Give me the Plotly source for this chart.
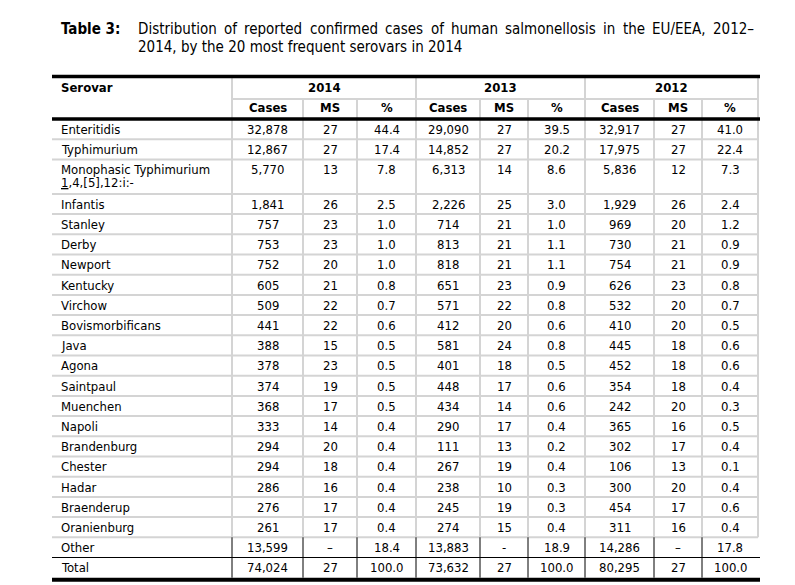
import plotly.graph_objects as go

# ---------------- data ----------------
title_label = "Table 3:"
title_line1 = ["Distribution", "of", "reported", "confirmed", "cases", "of", "human",
               "salmonellosis", "in", "the", "EU/EEA,", "2012–"]
title_line2 = "2014, by the 20 most frequent serovars in 2014"

years = ["2014", "2013", "2012"]
sub_headers = ["Cases", "MS", "%"]

serovars = ["Enteritidis", "Typhimurium", "Monophasic Typhimurium\n<u>1</u>,4,[5],12:i:-",
            "Infantis", "Stanley", "Derby", "Newport", "Kentucky", "Virchow",
            "Bovismorbificans", "Java", "Agona", "Saintpaul", "Muenchen", "Napoli",
            "Brandenburg", "Chester", "Hadar", "Braenderup", "Oranienburg", "Other", "Total"]

cases_2014 = [32878, 12867, 5770, 1841, 757, 753, 752, 605, 509, 441, 388, 378, 374, 368,
              333, 294, 294, 286, 276, 261, 13599, 74024]
ms_2014 = [27, 27, 13, 26, 23, 23, 20, 21, 22, 22, 15, 23, 19, 17, 14, 20, 18, 16, 17, 17, "–", 27]
pct_2014 = [44.4, 17.4, 7.8, 2.5, 1.0, 1.0, 1.0, 0.8, 0.7, 0.6, 0.5, 0.5, 0.5, 0.5, 0.4,
            0.4, 0.4, 0.4, 0.4, 0.4, 18.4, 100.0]

cases_2013 = [29090, 14852, 6313, 2226, 714, 813, 818, 651, 571, 412, 581, 401, 448, 434,
              290, 111, 267, 238, 245, 274, 13883, 73632]
ms_2013 = [27, 27, 14, 25, 21, 21, 21, 23, 22, 20, 24, 18, 17, 14, 17, 13, 19, 10, 19, 15, "-", 27]
pct_2013 = [39.5, 20.2, 8.6, 3.0, 1.0, 1.1, 1.1, 0.9, 0.8, 0.6, 0.8, 0.5, 0.6, 0.6, 0.4,
            0.2, 0.4, 0.3, 0.3, 0.4, 18.9, 100.0]

cases_2012 = [32917, 17975, 5836, 1929, 969, 730, 754, 626, 532, 410, 445, 452, 354, 242,
              365, 302, 106, 300, 454, 311, 14286, 80295]
ms_2012 = [27, 27, 12, 26, 20, 21, 21, 23, 20, 20, 18, 18, 18, 20, 16, 17, 13, 20, 17, 16, "–", 27]
pct_2012 = [41.0, 22.4, 7.3, 2.4, 1.2, 0.9, 0.9, 0.8, 0.7, 0.5, 0.6, 0.6, 0.4, 0.3, 0.5,
            0.4, 0.1, 0.4, 0.6, 0.4, 17.8, 100.0]

# ---------------- layout constants ----------------
W, H = 795, 585
FONT = "DejaVu Sans Condensed, DejaVu Sans, Liberation Sans, sans-serif"
BODY = 13
TITLE = 15
GREY = "#d4d4d4"

col_edges = [52, 232, 303, 357, 416, 480, 528, 585, 654, 702, 758]
title_x0, title_x1 = 137, 753

top_y, mid_y, head_y = 76.5, 99, 119
row_h, double_h = 20.2, 34.5

# approximate advance widths (em) of DejaVu Sans glyphs, used to justify the title line
EM = {"a": .613, "b": .635, "c": .550, "d": .635, "e": .615, "f": .352, "h": .634,
      "i": .278, "l": .278, "m": .974, "n": .634, "o": .612, "p": .635, "r": .411,
      "s": .521, "t": .392, "u": .634, "D": .770, "E": .632, "U": .732, "A": .684,
      "/": .337, ",": .318, "–": .5}
COND = 0.9


def word_width(w, size):
    return sum(EM.get(ch, .636) for ch in w) * COND * size


annotations = []
shapes = []


def txt(x, y, s, anchor="center", bold=False, size=BODY):
    annotations.append(dict(
        x=x, y=y, xref="x", yref="y", text=("<b>%s</b>" % s) if bold else s,
        showarrow=False, xanchor=anchor, yanchor="middle",
        font=dict(family=FONT, size=size, color="black"), borderpad=0))


def hline(y, x0, x1, color, width):
    shapes.append(dict(type="line", xref="x", yref="y", x0=x0, x1=x1, y0=y, y1=y,
                       line=dict(color=color, width=width)))


def vline(x, y0, y1, color, width):
    shapes.append(dict(type="line", xref="x", yref="y", x0=x, x1=x, y0=y0, y1=y1,
                       line=dict(color=color, width=width)))


# title (first line justified)
txt(60, 28.5, title_label, anchor="left", bold=True, size=TITLE)
widths = [word_width(w, TITLE) for w in title_line1]
gap = (title_x1 - title_x0 - sum(widths)) / (len(title_line1) - 1)
x = title_x0
for w, wd in zip(title_line1, widths):
    txt(x, 28.5, w, anchor="left", size=TITLE)
    x += wd + gap
txt(title_x0, 46.5, title_line2, anchor="left", size=TITLE)

# header
txt(60, 87.5, "Serovar", anchor="left", bold=True)
for g, yr in enumerate(years):
    x0 = col_edges[1 + 3 * g]
    x1 = col_edges[4 + 3 * g]
    txt((x0 + x1) / 2, 87.5, yr, bold=True)
    for k, sh in enumerate(sub_headers):
        c = 1 + 3 * g + k
        txt((col_edges[c] + col_edges[c + 1]) / 2, 107, sh, bold=True)

# rows
columns = [cases_2014, ms_2014, pct_2014, cases_2013, ms_2013, pct_2013,
           cases_2012, ms_2012, pct_2012]


def fmt(v, k):
    if isinstance(v, str):
        return v
    if k % 3 == 0:
        return "{:,}".format(v)
    if k % 3 == 2:
        return "{:.1f}".format(v)
    return str(v)


row_tops = []
y = head_y
for i, name in enumerate(serovars):
    lines = name.split("\n")
    h = double_h if len(lines) > 1 else row_h
    row_tops.append(y)
    cy = y + 10.3
    for j, ln in enumerate(lines):
        txt(60, cy + 13 * j, ln, anchor="left")
    for k, col in enumerate(columns):
        c = 1 + k
        txt((col_edges[c] + col_edges[c + 1]) / 2, cy, fmt(col[i], k))
    y += h
row_tops.append(y)
bottom_y = y

n = len(serovars)
other_top = row_tops[n - 2]
total_top = row_tops[n - 1]

# grey grid lines
hline(mid_y, col_edges[1], col_edges[-1], GREY, 2)
for r in range(1, n - 2):
    hline(row_tops[r], col_edges[0], col_edges[-1], GREY, 2)
hline(other_top, col_edges[0], col_edges[-1], GREY, 2)
for idx, xv in enumerate(col_edges[1:]):
    c = idx + 1
    y0 = top_y if c in (1, 4, 7, 10) else mid_y
    vline(xv, y0, other_top, GREY, 2)
# black thin lines in Other / Total rows
for xv in col_edges[1:-1]:
    vline(xv, other_top, bottom_y, "black", 1)
hline(total_top, col_edges[0], col_edges[-1] + 2, "black", 1.2)

# thick rules
hline(top_y, col_edges[0], col_edges[-1] + 2, "black", 3.5)
hline(head_y, col_edges[0], col_edges[-1] + 2, "black", 3.5)
hline(bottom_y + 2, col_edges[0], col_edges[-1] + 2, "black", 4)

fig = go.Figure(go.Scatter(x=[0], y=[0], mode="markers", marker=dict(opacity=0),
                           hoverinfo="skip", showlegend=False))
fig.update_layout(
    width=W, height=H, margin=dict(l=0, r=0, t=0, b=0),
    paper_bgcolor="white", plot_bgcolor="white",
    xaxis=dict(range=[0, W], visible=False, fixedrange=True),
    yaxis=dict(range=[H, 0], visible=False, fixedrange=True),
    annotations=annotations, shapes=shapes, showlegend=False,
)
fig.write_html("out.html", config={"displayModeBar": False},
               post_script="document.body.style.margin='0';document.body.style.overflow='hidden';")
